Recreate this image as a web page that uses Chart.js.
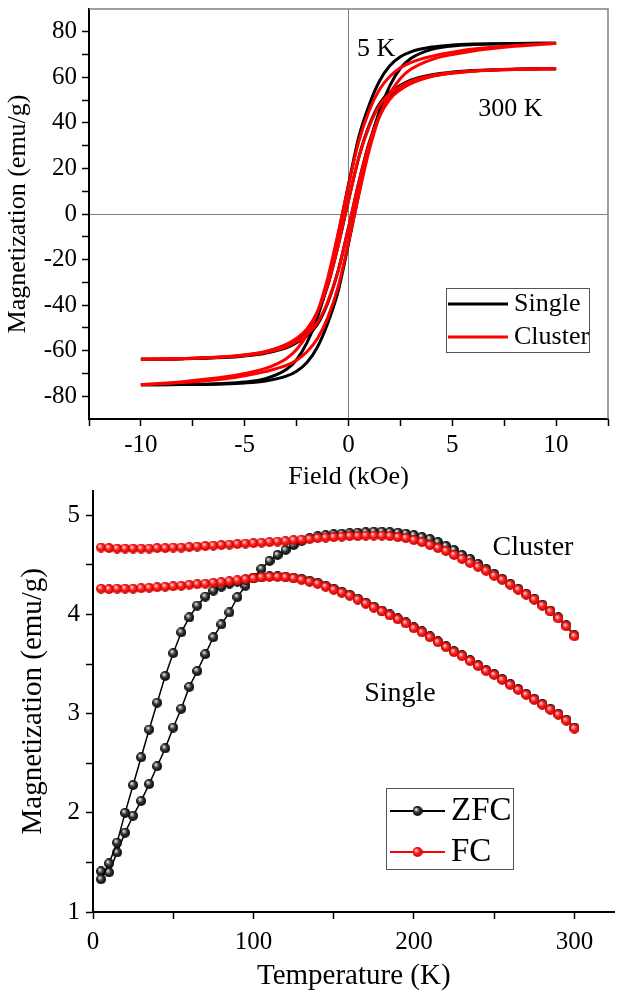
<!DOCTYPE html>
<html>
<head>
<meta charset="utf-8">
<script src="https://cdn.jsdelivr.net/npm/chart.js"></script>
<style>
body{margin:0;background:#fff;width:621px;height:1000px;position:relative;overflow:hidden}
canvas{position:absolute;left:0}
#loopChart{top:0}
#zfcChart{top:484px}
</style>
</head>
<body>
<canvas id="loopChart" width="621" height="493"></canvas>
<canvas id="zfcChart" width="621" height="510"></canvas>
<script>

/* M-H LOOPS (kOe, emu/g) */

const fieldDown=[10,8,6,5,4,3,2.5,2,1.5,1,0.5,0,-0.5,-1,-1.5,-2,-2.5,-3,-4,-5,-6,-8,-10]
const fieldUp=[-10,-8,-6,-5,-4,-3,-2.5,-2,-1.5,-1,-0.5,0,0.5,1,1.5,2,2.5,3,4,5,6,8,10]

const single5KDown=[75,74.9,74.6,74.2,73.3,71.2,69,65.2,58.5,48,34,13,-9,-30,-45.5,-56.5,-64,-68.3,-72.3,-73.8,-74.4,-74.9,-75]
const single5KUp=[-75,-74.9,-74.6,-74.2,-73.3,-71.2,-69,-65.2,-58.5,-48,-34,-13,9,30,45.5,56.5,64,68.3,72.3,73.8,74.4,74.9,75]
const cluster5KDown=[75,74,72.4,71,69.2,66.5,64.2,60.5,54.8,45.5,32,12.5,-8.5,-28,-43,-53,-59.5,-63.5,-67.8,-70,-71.6,-73.6,-75]
const cluster5KUp=[-75,-74,-72.4,-71,-69.2,-66.5,-64.2,-60.5,-54.8,-45.5,-32,-12.5,8.5,28,43,53,59.5,63.5,67.8,70,71.6,73.6,75]
const single300KDown=[63.8,63.6,63,62.3,61.1,58.8,56.5,53.5,48.5,39,25,6,-14,-31.5,-43.5,-51,-55,-57.5,-60.6,-62,-62.8,-63.5,-63.8]
const single300KUp=[-63.8,-63.6,-63,-62.3,-61.1,-58.8,-56.5,-53.5,-48.5,-39,-25,-6,14,31.5,43.5,51,55,57.5,60.6,62,62.8,63.5,63.8]
const cluster300KDown=[63.8,63.5,62.8,62.1,60.8,58.3,56,52.8,47.8,38.5,25,6,-14,-31,-43,-50.5,-54.5,-57.2,-60.3,-61.8,-62.7,-63.4,-63.8]
const cluster300KUp=[-63.8,-63.5,-62.8,-62.1,-60.8,-58.3,-56,-52.8,-47.8,-38.5,-25,-6,14,31,43,50.5,54.5,57.2,60.3,61.8,62.7,63.4,63.8]

/* ZFC / FC (K, emu/g) */

const temperature=[5,10,15,20,25,30,35,40,45,50,55,60,65,70,75,80,85,90,95,100,
105,110,115,120,125,130,135,140,145,150,155,160,165,170,175,180,185,190,195,200,
205,210,215,220,225,230,235,240,245,250,255,260,265,270,275,280,285,290,295,300]

const zfcSingle=[1.33,1.49,1.70,2.00,2.28,2.56,2.84,3.11,3.38,3.61,
3.82,3.97,4.09,4.18,4.24,4.28,4.31,4.33,4.35,4.365,
4.375,4.385,4.385,4.38,4.37,4.36,4.34,4.32,4.29,4.26,
4.23,4.20,4.16,4.12,4.08,4.04,4.00,3.96,3.92,3.87,
3.83,3.78,3.73,3.68,3.63,3.59,3.54,3.49,3.44,3.40,
3.35,3.30,3.25,3.20,3.15,3.10,3.05,3.00,2.94,2.86]

const fcSingle=[4.26,4.255,4.26,4.26,4.26,4.265,4.27,4.275,4.28,4.285,
4.29,4.30,4.305,4.31,4.32,4.325,4.335,4.345,4.355,4.365,
4.375,4.38,4.38,4.375,4.365,4.35,4.33,4.31,4.28,4.25,
4.22,4.19,4.15,4.11,4.07,4.03,3.99,3.95,3.91,3.86,
3.82,3.77,3.72,3.67,3.62,3.58,3.53,3.48,3.43,3.39,
3.34,3.29,3.24,3.19,3.14,3.09,3.04,2.99,2.93,2.85]

const zfcCluster=[1.41,1.40,1.60,1.80,1.97,2.12,2.29,2.47,2.65,2.86,
3.05,3.27,3.43,3.60,3.77,3.90,4.02,4.175,4.29,4.37,
4.46,4.54,4.60,4.65,4.70,4.74,4.77,4.79,4.80,4.81,
4.815,4.82,4.825,4.83,4.835,4.835,4.83,4.825,4.815,4.80,
4.78,4.76,4.73,4.69,4.65,4.60,4.56,4.51,4.46,4.41,
4.36,4.31,4.26,4.21,4.16,4.10,4.04,3.97,3.89,3.79]

const fcCluster=[4.675,4.67,4.665,4.665,4.665,4.665,4.665,4.67,4.67,4.675,
4.675,4.68,4.685,4.69,4.695,4.70,4.705,4.71,4.715,4.72,
4.725,4.73,4.735,4.74,4.75,4.755,4.76,4.77,4.775,4.78,
4.785,4.79,4.79,4.795,4.795,4.795,4.79,4.78,4.77,4.75,
4.73,4.70,4.67,4.64,4.60,4.56,4.52,4.48,4.44,4.39,
4.35,4.30,4.25,4.20,4.15,4.09,4.03,3.96,3.88,3.78]


Chart.defaults.font.family='"Liberation Serif", "Times New Roman", serif'
Chart.defaults.color='#000'

const BLACK='#000'
const RED='#ff0000'

const pairs=(xs,ys)=>xs.map((x,i)=>({x:x,y:ys[i]}))

/* shaded ball markers */

function ball(r,light,mid,dark){
const c=document.createElement("canvas")
c.width=c.height=2*r
const g=c.getContext("2d")
const grad=g.createRadialGradient(r*0.7,r*0.65,r*0.1,r,r,r)
grad.addColorStop(0,light)
grad.addColorStop(0.45,mid)
grad.addColorStop(1,dark)
g.fillStyle=grad
g.beginPath()
g.arc(r,r,r,0,Math.PI*2)
g.fill()
return c
}

const blackBall=ball(5,"#e6e6e6","#3a3a3a","#000")
const redBall=ball(5,"#ffd2d2","#ff2020","#c80000")


/* PLUGINS: frame, in-plot legend, text labels */

const frame={
id:"frame",
beforeDatasetsDraw(chart,args,o){
if(!o.show) return
const {ctx,chartArea:a}=chart
ctx.save()
ctx.strokeStyle="#808080"
ctx.lineWidth=1.5
ctx.beginPath()
ctx.moveTo(a.left,a.top)
ctx.lineTo(a.right,a.top)
ctx.lineTo(a.right,a.bottom)
ctx.stroke()
ctx.restore()
}
}

const boxLegend={
id:"boxLegend",
afterDraw(chart,args,o){
const ctx=chart.ctx
ctx.save()
ctx.strokeStyle="#555"
ctx.lineWidth=1
ctx.strokeRect(o.box[0]+0.5,o.box[1]+0.5,o.box[2],o.box[3])
ctx.font=o.size+'px "Liberation Serif"'
ctx.textBaseline="middle"
ctx.textAlign="left"
o.items.forEach((idx,i)=>{
const ds=chart.data.datasets[idx]
const y=o.rows[i]
ctx.strokeStyle=ds.borderColor
ctx.lineWidth=o.lineWidth
ctx.beginPath()
ctx.moveTo(o.line[0],y)
ctx.lineTo(o.line[1],y)
ctx.stroke()
if(ds.pointStyle instanceof HTMLCanvasElement){
const img=ds.pointStyle
ctx.drawImage(img,(o.line[0]+o.line[1])/2-img.width/2,y-img.height/2)
}
ctx.fillStyle="#000"
ctx.fillText(ds.label,o.textX,y)
})
ctx.restore()
}
}

const notes={
id:"notes",
afterDraw(chart,args,o){
const ctx=chart.ctx
const xs=chart.scales.x, ys=chart.scales.y
ctx.save()
ctx.fillStyle="#000"
ctx.textBaseline="middle"
ctx.textAlign="left"
ctx.font=o.size+'px "Liberation Serif"'
o.items.forEach(n=>ctx.fillText(n.text,xs.getPixelForValue(n.x),ys.getPixelForValue(n.y)))
ctx.restore()
}
}

function fixBox(w,h){
return function(s){
if(w) s.width=w
if(h) s.height=h
s.paddingTop=0
s.paddingBottom=0
s.paddingLeft=0
s.paddingRight=0
}
}


/* TOP: HYSTERESIS LOOPS */

function loopSet(label,xs,ys,color,order){
return {
label:label,
data:pairs(xs,ys),
borderColor:color,
backgroundColor:color,
borderWidth:3,
pointRadius:0,
cubicInterpolationMode:"monotone",
fill:false,
order:order
}
}

new Chart(document.getElementById("loopChart"),{
type:"line",
data:{
datasets:[
loopSet("Single",fieldDown,single5KDown,BLACK,1),
loopSet("Single",fieldUp,single5KUp,BLACK,1),
loopSet("Single",fieldDown,single300KDown,BLACK,1),
loopSet("Single",fieldUp,single300KUp,BLACK,1),
loopSet("Cluster",fieldDown,cluster5KDown,RED,0),
loopSet("Cluster",fieldUp,cluster5KUp,RED,0),
loopSet("Cluster",fieldDown,cluster300KDown,RED,0),
loopSet("Cluster",fieldUp,cluster300KUp,RED,0)
]
},
options:{
responsive:false,
animation:false,
events:[],
layout:{padding:{top:9,right:13,left:0,bottom:0}},
plugins:{
legend:{display:false},
tooltip:{enabled:false},
frame:{show:true},
boxLegend:{
box:[446,288,143,64],
items:[0,4],
rows:[304,337],
line:[448,508],
lineWidth:3,
textX:514,
size:26
},
notes:{
size:26,
items:[
{text:"5 K",x:0.41,y:72.5},
{text:"300 K",x:6.25,y:46}
]
}
},
scales:{
x:{
type:"linear",
min:-12.5,
max:12.5,
afterFit:fixBox(0,74),
border:{color:"#000",width:2},
grid:{
drawOnChartArea:true,
color:c=>c.tick&&c.tick.value===0?"#808080":"rgba(0,0,0,0)",
lineWidth:1,
tickColor:"#000",
tickWidth:1.5,
tickLength:7
},
ticks:{
stepSize:2.5,
padding:4,
maxRotation:0,
autoSkip:false,
font:{size:25},
callback:v=>v%5===0?String(v):""
},
title:{display:true,text:"Field (kOe)",font:{size:26},padding:{top:0,bottom:0}}
},
y:{
type:"linear",
min:-90,
max:90,
afterFit:fixBox(89,0),
afterBuildTicks:s=>{s.ticks=s.ticks.filter(t=>Math.abs(t.value)<90)},
border:{color:"#000",width:2},
grid:{
drawOnChartArea:true,
color:c=>c.tick&&c.tick.value===0?"#808080":"rgba(0,0,0,0)",
lineWidth:1,
tickColor:"#000",
tickWidth:1.5,
tickLength:7
},
ticks:{
stepSize:10,
padding:5,
autoSkip:false,
font:{size:25},
callback:v=>v%20===0?String(v):""
},
title:{display:true,text:"Magnetization (emu/g)",font:{size:26},padding:{top:3,bottom:0}}
}
}
},
plugins:[frame,boxLegend,notes]
})


/* BOTTOM: ZFC / FC */

function tempSet(label,ys,color,ballImg,order){
return {
label:label,
data:pairs(temperature,ys),
borderColor:color,
backgroundColor:color,
borderWidth:1.5,
pointStyle:ballImg,
pointRadius:5,
tension:0,
fill:false,
order:order
}
}

new Chart(document.getElementById("zfcChart"),{
type:"line",
data:{
datasets:[
tempSet("ZFC",zfcSingle,BLACK,blackBall,1),
tempSet("ZFC",zfcCluster,BLACK,blackBall,1),
tempSet("FC",fcSingle,RED,redBall,0),
tempSet("FC",fcCluster,RED,redBall,0)
]
},
options:{
responsive:false,
animation:false,
events:[],
layout:{padding:{top:0,right:2,left:0,bottom:0}},
plugins:{
legend:{display:false},
tooltip:{enabled:false},
frame:{show:false},
boxLegend:{
box:[386,304,127,81],
items:[0,2],
rows:[327,368],
line:[390,445],
lineWidth:2,
textX:451,
size:33
},
notes:{
size:28,
items:[
{text:"Cluster",x:249,y:4.67},
{text:"Single",x:169,y:3.2}
]
}
},
scales:{
x:{
type:"linear",
min:0,
max:325,
afterFit:fixBox(0,82),
border:{color:"#000",width:2},
grid:{
drawOnChartArea:false,
tickColor:"#000",
tickWidth:1.5,
tickLength:7
},
ticks:{
stepSize:50,
includeBounds:false,
padding:8,
maxRotation:0,
autoSkip:false,
font:{size:25},
callback:v=>v%100===0?String(v):""
},
title:{display:true,text:"Temperature (K)",font:{size:29},padding:{top:0,bottom:0}}
},
y:{
type:"linear",
min:1,
max:5.25,
afterFit:fixBox(93,0),
border:{color:"#000",width:2},
grid:{
drawOnChartArea:false,
tickColor:"#000",
tickWidth:1.5,
tickLength:7
},
ticks:{
stepSize:0.5,
includeBounds:false,
padding:6,
autoSkip:false,
font:{size:25},
callback:v=>Number.isInteger(v)?String(v):""
},
title:{display:true,text:"Magnetization (emu/g)",font:{size:29},padding:{top:16,bottom:0}}
}
}
},
plugins:[frame,boxLegend,notes]
})

</script>
</body>
</html>
